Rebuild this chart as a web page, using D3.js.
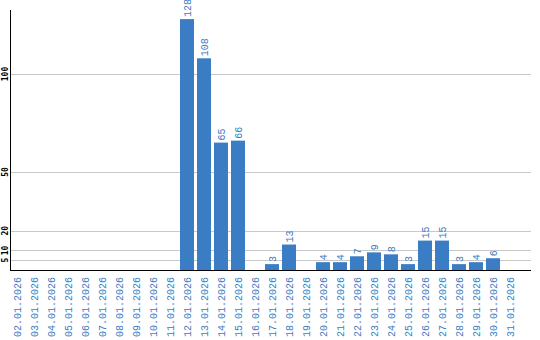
<!DOCTYPE html>
<html>
<head>
<meta charset="utf-8">
<script src="https://cdn.jsdelivr.net/npm/d3@7"></script>
<style>
  html, body { margin: 0; padding: 0; background: #fff; }
  svg { display: block; }
</style>
</head>
<body>
<svg id="chart" width="540" height="340"></svg>
<script>
// days of January 2026 shown on the x axis
const days = ['02', '03', '04', '05', '06', '07', '08', '09', '10', '11', '12', '13', '14', '15', '16',
  '17', '18', '19', '20', '21', '22', '23', '24', '25', '26', '27', '28', '29', '30', '31']
const dateLabels = days.map(d => `${d}.01.2026`)
const counts = [0, 0, 0, 0, 0, 0, 0, 0, 0, 0, 128, 108, 65, 66, 0,
  3, 13, 0, 4, 4, 7, 9, 8, 3, 15, 15, 3, 4, 6, 0]
const yTicks = [5, 10, 20, 50, 100]

const blue = '#3b7dc4'
const mono = "'Liberation Mono', monospace"

const svg = d3.select('#chart')

const x = d3.scaleBand()
  .domain(dateLabels)
  .range([8.5, 518.5])
  .paddingInner(3 / 17)
  .paddingOuter(1.5 / 17)

const y = d3.scaleLinear()
  .domain([0, 132.65])
  .range([270, 10])

// gridlines
svg.append('g')
  .selectAll('line')
  .data(yTicks)
  .join('line')
  .attr('x1', 11)
  .attr('x2', 531)
  .attr('y1', d => Math.round(y(d)) + 0.5)
  .attr('y2', d => Math.round(y(d)) + 0.5)
  .attr('stroke', '#c8c8c8')
  .attr('stroke-width', 1)

// y tick labels (rotated)
svg.append('g')
  .selectAll('text')
  .data(yTicks)
  .join('text')
  .attr('transform', d => `translate(7.5,${y(d)}) rotate(-90)`)
  .attr('text-anchor', 'middle')
  .attr('font-family', "'DejaVu Sans Mono', monospace")
  .attr('font-size', '8px')
  .attr('font-weight', 700)
  .attr('fill', '#000')
  .text(d => d)

// bars
const data = dateLabels.map((label, i) => ({ label, value: counts[i] }))

svg.append('g')
  .selectAll('rect')
  .data(data.filter(d => d.value > 0))
  .join('rect')
  .attr('x', d => x(d.label))
  .attr('y', d => y(d.value))
  .attr('width', x.bandwidth())
  .attr('height', d => y(0) - y(d.value))
  .attr('fill', blue)

// value labels
svg.append('g')
  .selectAll('text')
  .data(data.filter(d => d.value > 0))
  .join('text')
  .attr('transform', d => `translate(${x(d.label) + x.bandwidth() / 2},${y(d.value) - 2}) rotate(-90)`)
  .attr('dy', '0.35em')
  .attr('font-family', mono)
  .attr('font-size', '10px')
  .attr('fill', blue)
  .text(d => d.value)

// axes lines
svg.append('line')
  .attr('x1', 10.5).attr('x2', 10.5)
  .attr('y1', 10).attr('y2', 270.5)
  .attr('stroke', '#000')
svg.append('line')
  .attr('x1', 10).attr('x2', 531)
  .attr('y1', 270.5).attr('y2', 270.5)
  .attr('stroke', '#000')

// x labels
svg.append('g')
  .selectAll('text')
  .data(dateLabels)
  .join('text')
  .attr('transform', d => `translate(${x(d) + x.bandwidth() / 2},277) rotate(-90)`)
  .attr('text-anchor', 'end')
  .attr('dy', '0.35em')
  .attr('font-family', mono)
  .attr('font-size', '10px')
  .attr('fill', blue)
  .text(d => d)
</script>
</body>
</html>
